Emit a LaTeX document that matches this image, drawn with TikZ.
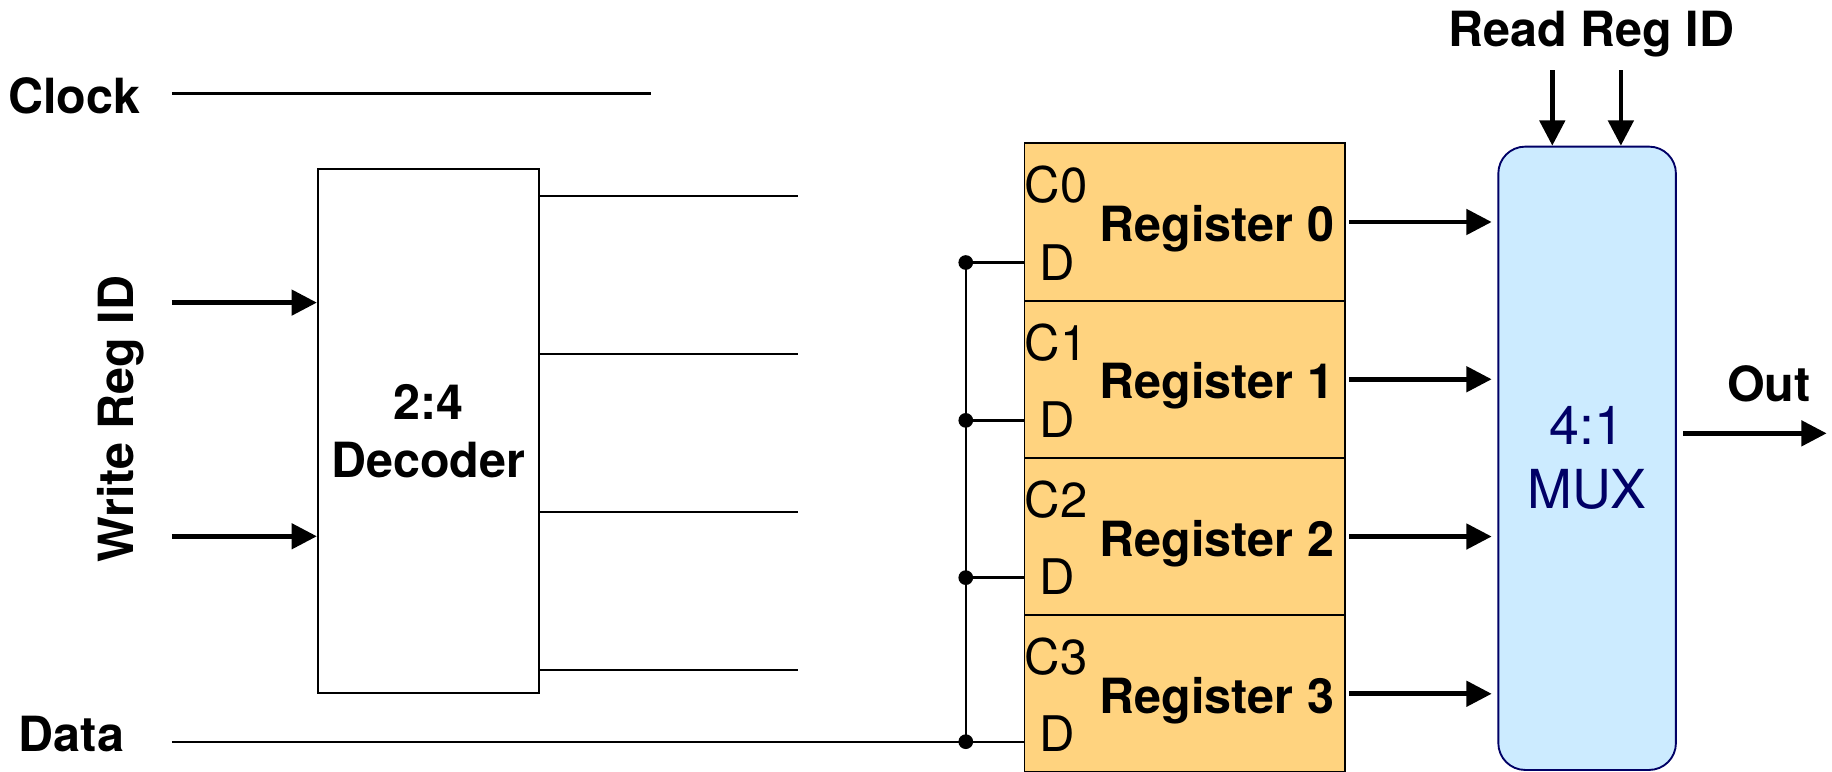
\documentclass[tikz,border=0pt]{standalone}
\usepackage{fontspec}
\setmainfont{TeX Gyre Heros}
\usetikzlibrary{arrows.meta}
\definecolor{regfill}{HTML}{FFD37F}
\definecolor{muxfill}{HTML}{CCEBFF}
\definecolor{navy}{HTML}{000066}
\begin{document}
\begin{tikzpicture}[x=1pt,y=-1pt,
  lbl/.style={inner sep=0pt, font=\fontsize{41.5}{49.5}\selectfont\bfseries},
  plain/.style={inner sep=0pt, font=\fontsize{42}{50}\selectfont},
  muxtext/.style={inner sep=0pt, font=\fontsize{46}{55}\selectfont},
  thin/.style={line width=2pt},
  arr/.style={line width=4pt, -{Triangle[length=21.6pt,width=21.4pt]}},
  regbox/.style={draw, fill=regfill, line width=1.6pt, minimum width=274.2pt, minimum height=134.6pt, inner sep=0pt},
  decbox/.style={draw, line width=1.6pt, minimum width=189pt, minimum height=448.4pt, inner sep=0pt, align=center},
  muxbox/.style={draw=navy, fill=muxfill, line width=1.6pt, rounded corners=23pt, minimum width=152pt, minimum height=533.5pt, inner sep=0pt, align=center, text=navy},
  dot/.style={fill=black}
]
\useasboundingbox (0,0) rectangle (1568,660);

% labels
\node[lbl, anchor=base west] (clk) at (7,97) {Clock};
\node[lbl, anchor=base west] (data) at (16,643.5) {Data};
\node[lbl, anchor=base, rotate=90] (wrid) at (114.6,358.6) {Write Reg ID};
\node[lbl, anchor=base] (rrid) at (1362,40) {Read Reg ID};
\node[lbl, anchor=base] (out) at (1514,343.8) {Out};

% decoder
\node[decbox, lbl] (dec) at (366.5,368.8) {2:4\\Decoder};

% mux
\node[muxbox, muxtext] (mux) at (1358.4,392.25) {4:1\\MUX};

% registers
\foreach \i in {0,...,3} {
  \pgfmathsetmacro\T{122.7+134.6*\i}
  \node[regbox] (reg\i) at (1013.9,\T+67.3) {};
  \node[lbl, anchor=base] (rl\i) at (1041.5,\T+84) {Register \i};
  \node[plain, anchor=base west] (c\i) at (877,\T+51) {C\i};
  \node[plain, anchor=base west] (d\i) at (889.5,\T+117) {D};
}

% coordinates
\coordinate (clkA) at (147,79.9);
\coordinate (clkB) at (557,79.9);
\coordinate (w1) at (147,259);
\coordinate (w2) at (147,459);
\coordinate (o0) at (682.6,168);
\coordinate (o1) at (682.6,303);
\coordinate (o2) at (682.6,438);
\coordinate (o3) at (682.6,573.5);
\coordinate (dA) at (147,634.8);
\coordinate (j0) at (826.6,224.7);
\coordinate (j1) at (826.6,359.8);
\coordinate (j2) at (826.6,494.4);
\coordinate (j3) at (826.6,634.8);
\coordinate (rd1) at (1328.6,60);
\coordinate (rd2) at (1387.3,60);
\coordinate (outE) at (1563.4,370.9);

% clock
\draw[thin] (clkA) -- (clkB);

% write reg id arrows
\draw[arr] (w1) -- (w1 -| dec.west);
\draw[arr] (w2) -- (w2 -| dec.west);

% decoder outputs
\foreach \k in {0,...,3} {
  \draw[thin] (o\k -| dec.east) -- (o\k);
}

% data bus
\draw[thin] (dA) -- (j3) -- (j3 -| reg3.west);
\draw[thin] (j0) -- (j3);
\foreach \k in {0,1,2} {
  \draw[thin] (j\k) -- (j\k -| reg\k.west);
}
\foreach \k in {0,...,3} {
  \fill[dot] (j\k) circle (6.3pt);
}

% register outputs
\foreach \k in {0,...,3} {
  \draw[arr, shorten <=3pt, shorten >=4.9pt] (reg\k.east) -- (reg\k.east -| mux.west);
}

% read reg id
\draw[arr] (rd1) -- (rd1 |- mux.north);
\draw[arr] (rd2) -- (rd2 |- mux.north);

% out
\draw[arr, shorten <=5.6pt] (mux.east |- outE) -- (outE);
\end{tikzpicture}
\end{document}
